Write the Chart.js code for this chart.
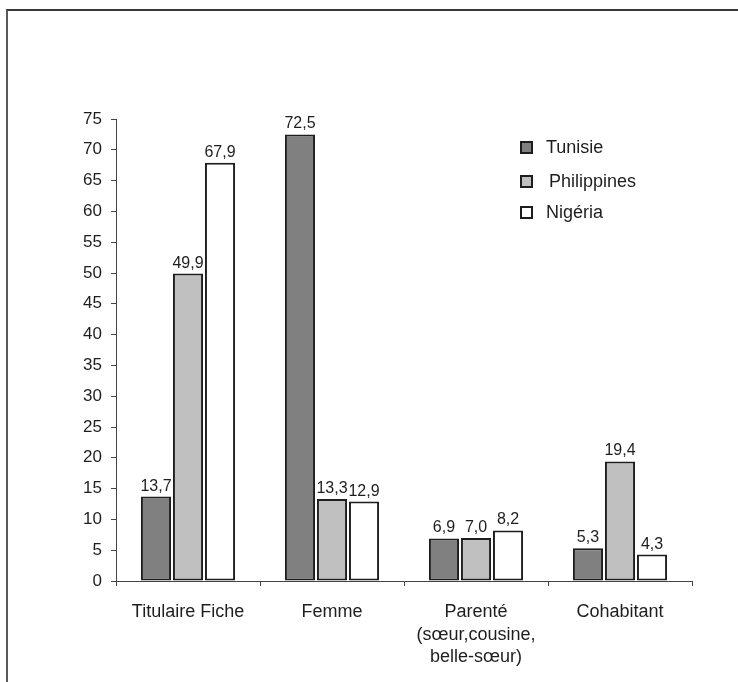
<!DOCTYPE html>
<html>
<head>
<meta charset="utf-8">
<script src="https://cdn.jsdelivr.net/npm/chart.js@4.4.1/dist/chart.umd.min.js"></script>
<style>
  html, body { margin:0; padding:0; background:#fff; }
  #wrap { position:relative; width:738px; height:682px; overflow:hidden; }
  #frame {
    position:absolute; left:6px; top:9px; width:900px; height:900px;
    border-top:2px solid #3a3a3a; border-left:2px solid #5a5a5a;
  }
  #chart { position:absolute; left:0; top:0; }
</style>
</head>
<body>
<div id="wrap">
  <div id="frame"></div>
  <canvas id="chart" width="738" height="682"></canvas>
</div>
<script>

const categories = [
  'Titulaire Fiche',
  'Femme',
  ['Parenté', '(sœur,cousine,', 'belle-sœur)'],
  'Cohabitant'
];

const tunisie = [13.7, 72.5, 6.9, 5.3];
const philippines = [49.9, 13.3, 7.0, 19.4];
const nigeria = [67.9, 12.9, 8.2, 4.3];

const seriesNames = ['Tunisie', 'Philippines', 'Nigéria'];

const yTicks = [0, 75, 5];   // min, max, step

const FONT = '"Liberation Sans", Arial, sans-serif';
const INK = '#1e1e1e';

/* ETIQUETTES DES VALEURS */

const valueLabels = {
  id:'valueLabels',
  afterDatasetsDraw(chart){
    const ctx = chart.ctx;
    ctx.save();
    ctx.font = '16px ' + FONT;
    ctx.fillStyle = INK;
    ctx.textAlign = 'center';
    ctx.textBaseline = 'alphabetic';
    chart.data.datasets.forEach((ds, i) => {
      chart.getDatasetMeta(i).data.forEach((bar, j) => {
        const txt = ds.data[j].toFixed(1).replace('.', ',');
        ctx.fillText(txt, bar.x, bar.y - 6);
      });
    });
    ctx.restore();
  }
};

/* LEGENDE */

const boxLegend = {
  id:'boxLegend',
  afterDraw(chart){
    const ctx = chart.ctx;
    const rows = [148, 182, 213];
    ctx.save();
    ctx.font = '18px ' + FONT;
    ctx.textBaseline = 'middle';
    chart.data.datasets.forEach((ds, i) => {
      const y = rows[i];
      ctx.fillStyle = ds.backgroundColor;
      ctx.fillRect(521, y - 6, 11, 11);
      ctx.strokeStyle = INK;
      ctx.lineWidth = 2;
      ctx.strokeRect(521, y - 6, 11, 11);
      ctx.fillStyle = INK;
      ctx.fillText(ds.label, i === 1 ? 549 : 546, y);
    });
    ctx.restore();
  }
};

function makeDataset(label, data, color){
  return {
    label:label,
    data:data,
    backgroundColor:color,
    borderColor:INK,
    borderWidth:2,
    borderSkipped:false,
    categoryPercentage:0.667,
    barPercentage:0.94
  };
}

new Chart(document.getElementById('chart'), {

  type:'bar',

  data:{
    labels:categories,
    datasets:[
      makeDataset(seriesNames[0], tunisie, '#808080'),
      makeDataset(seriesNames[1], philippines, '#c0c0c0'),
      makeDataset(seriesNames[2], nigeria, '#ffffff')
    ]
  },

  options:{
    responsive:false,
    animation:false,
    layout:{
      padding:{ top:119, right:46, bottom:0, left:0 }
    },
    plugins:{
      legend:{ display:false },
      tooltip:{ enabled:false }
    },
    scales:{
      x:{
        grid:{
          offset:true,
          drawOnChartArea:false,
          tickLength:5,
          color:'#444'
        },
        border:{ color:'#444', width:1 },
        ticks:{
          autoSkip:false,
          maxRotation:0,
          padding:15,
          color:INK,
          font:{ family:FONT, size:18, lineHeight:1.25 }
        },
        afterFit(scale){ scale.height = 101; }
      },
      y:{
        min:yTicks[0],
        max:yTicks[1],
        grid:{
          drawOnChartArea:false,
          tickLength:5,
          color:'#444'
        },
        border:{ color:'#444', width:1 },
        ticks:{
          stepSize:yTicks[2],
          padding:9,
          color:INK,
          font:{ family:FONT, size:17 }
        },
        afterFit(scale){ scale.width = 116; }
      }
    }
  },

  plugins:[valueLabels, boxLegend]

});

</script>
</body>
</html>
